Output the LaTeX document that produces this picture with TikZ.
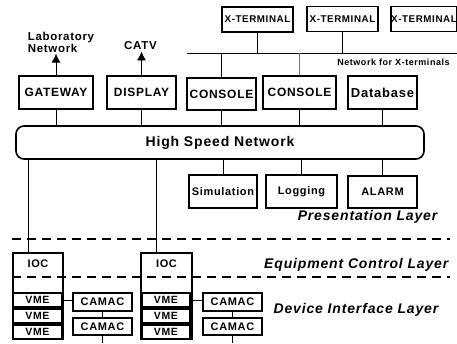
\documentclass[tikz,border=0pt]{standalone}
\usepackage{fontspec}
\setmainfont{Liberation Sans}[LetterSpace=6]
\usetikzlibrary{positioning,arrows.meta}

\tikzset{
  box/.style={draw,line width=1.6pt,inner sep=0pt,fill=white},
  xterm/.style={box,minimum width=71pt,minimum height=25pt,font=\bfseries\fontsize{9.8}{11}\selectfont},
  unit/.style={box,minimum width=69pt,minimum height=33pt,font=\bfseries\fontsize{12}{14}\selectfont},
  vme/.style={box,minimum width=49pt,minimum height=14pt,font=\bfseries\fontsize{10.5}{12}\selectfont},
  camac/.style={box,minimum width=59pt,minimum height=18pt,font=\bfseries\fontsize{11}{13}\selectfont},
  ioc/.style={box,minimum width=50pt,minimum height=86pt},
  small/.style={font=\bfseries\fontsize{11.5}{12}\selectfont},
  layer/.style={anchor=base east,font=\bfseries\itshape\fontsize{14}{16}\selectfont},
  layerline/.style={line width=2pt,dash pattern=on 9pt off 6pt}
}

\begin{document}
\begin{tikzpicture}[x=1pt,y=-1pt,>={Latex[length=9pt,width=9pt]},line width=0.8pt]
  \useasboundingbox (0,0) rectangle (457,343);
  \coordinate (bot) at (0,343);

  \node[xterm] (xt1) at (257.5,19.5) {X-TERMINAL};
  \node[xterm] (xt2) at (342.5,19) {X-TERMINAL};
  \node[xterm,minimum width=64pt] (xt3) at (424,19) {X-TERMINAL};
  \coordinate (netL) at (187,53);
  \coordinate (netR) at (457,53);
  \draw (netL) -- (netR);
  \node[font=\bfseries\fontsize{9}{10}\selectfont] (netlab) at (393.5,62) {Network for X-terminals};
  \draw (xt1.south) -- (xt1.south |- netL);
  \draw (xt2.south) -- (xt2.south |- netL);

  \node[unit,minimum width=74pt] (gate) at (56,92.5) {GATEWAY};
  \node[unit] (disp) at (141.5,92.5) {DISPLAY};
  \node[unit,minimum height=32pt] (con1) at (221.5,94) {CONSOLE};
  \node[unit,minimum width=73pt] (con2) at (299.5,92.5) {CONSOLE};
  \node[unit,font=\bfseries\fontsize{13}{15}\selectfont] (db) at (382.5,92.5) {Database};
  \draw (con1.north) -- (con1.north |- netL);
  \draw[black!55] (con2.north) -- (con2.north |- netL);

  \node[small,align=left,inner sep=1pt] (labnet) at (61,42) {Laboratory\\Network};
  \node[small,inner sep=1pt] (catv) at (140.5,46) {CATV};
  \draw[->] (gate.north) -- (gate.north |- labnet.south);
  \draw[->] (disp.north) -- (disp.north |- catv.south);

  \node[box,rounded corners=8pt,minimum width=408pt,minimum height=33pt,
        font=\bfseries\fontsize{14}{16}\selectfont] (hsn) at (220,142.5) {High Speed Network};
  \foreach \n in {gate,disp,con1,con2,db}
    \draw (\n.south) -- (\n.south |- hsn.north);

  \node[unit,minimum width=68pt,font=\bfseries\fontsize{11}{13}\selectfont] (sim) at (223,191.5) {Simulation};
  \node[unit,minimum width=71pt,font=\bfseries\fontsize{11}{13}\selectfont] (log) at (301.5,191.5) {Logging};
  \node[unit,minimum height=32pt,font=\bfseries\fontsize{11}{13}\selectfont] (alarm) at (382.5,192) {ALARM};
  \foreach \n in {sim,log,alarm}
    \draw (\n.north) -- (\n.north |- hsn.south);

  \node[layer] (pres) at (441,220) {Presentation Layer};
  \node[layer] (equip) at (452,268) {Equipment Control Layer};
  \node[layer] (dev) at (442,313) {Device Interface Layer};

  \node[ioc] (ioc1) at (38,296) {};
  \node[ioc,minimum width=51pt] (ioc2) at (166.5,296) {};
  \node[small,font=\bfseries\fontsize{11}{12}\selectfont] (ioclab1) at (38,264) {IOC};
  \node[small,font=\bfseries\fontsize{11}{12}\selectfont] (ioclab2) at (166.5,264) {IOC};
  \draw ([xshift=-10pt]ioc1.north) -- ([xshift=-10pt]ioc1.north |- hsn.south);
  \draw ([xshift=-10pt]ioc2.north) -- ([xshift=-10pt]ioc2.north |- hsn.south);

  \coordinate (dashAL) at (12,239);
  \coordinate (dashAR) at (450,239);
  \coordinate (dashBL) at (12,277);
  \coordinate (dashBR) at (450,277);
  \draw[layerline] (dashAL) -- (dashAR);
  \draw[layerline] (dashBL) -- (dashBR);

  \node[vme] (vme1a) at (37.5,300) {VME};
  \node[vme] (vme1b) at (37.5,316) {VME};
  \node[vme] (vme1c) at (37.5,332) {VME};
  \node[vme,minimum width=48pt] (vme2a) at (166,300) {VME};
  \node[vme,minimum width=48pt] (vme2b) at (166,316) {VME};
  \node[vme,minimum width=48pt] (vme2c) at (166,332) {VME};

  \node[camac] (cam1a) at (102.5,302) {CAMAC};
  \node[camac,minimum height=17pt] (cam1b) at (102.5,326.5) {CAMAC};
  \node[camac] (cam2a) at (232.5,302) {CAMAC};
  \node[camac,minimum height=17pt] (cam2b) at (232.5,326.5) {CAMAC};
  \draw (vme1a.east) -- (vme1a.east -| cam1a.west);
  \draw (vme2a.east) -- (vme2a.east -| cam2a.west);
  \draw (cam1a.south) -- (cam1b.north);
  \draw (cam2a.south) -- (cam2b.north);
  \draw[line width=1.2pt] (cam1b.south) -- (cam1b.south |- bot);
  \draw[line width=1.2pt] (cam2b.south) -- (cam2b.south |- bot);
\end{tikzpicture}
\end{document}
